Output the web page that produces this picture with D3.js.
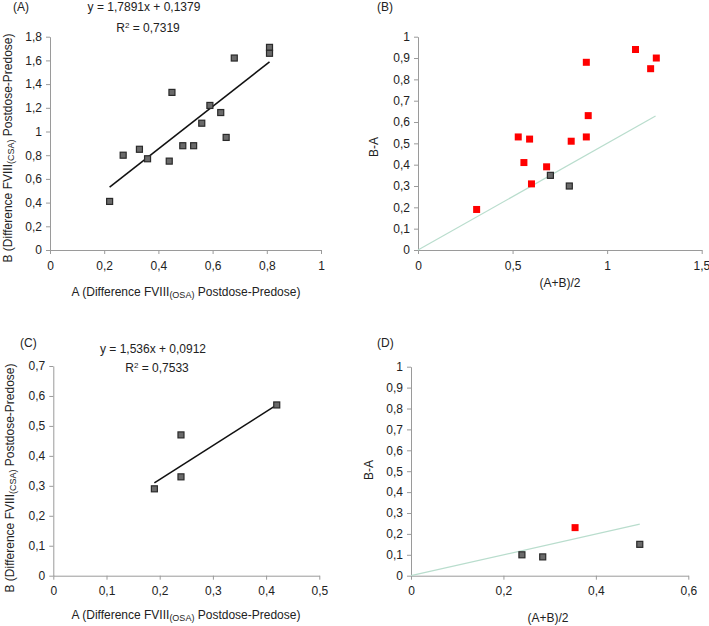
<!DOCTYPE html>
<html><head><meta charset="utf-8">
<script src="https://cdn.jsdelivr.net/npm/d3@7/dist/d3.min.js"></script>
<style>
body{margin:0;background:#fff;}
svg text{font-family:"Liberation Sans",Arial,Helvetica,sans-serif;fill:#222;}
</style></head><body>
<svg id="c" width="709" height="626"></svg>
<script>
// ---- Data ----
// Panel A
const aX = [0.22,0.27,0.33,0.36,0.44,0.45,0.49,0.53,0.56,0.59,0.63,0.65,0.68,0.81,0.81];
const aY = [0.41,0.80,0.85,0.77,0.75,1.33,0.88,0.88,1.07,1.22,1.16,0.95,1.62,1.71,1.66];
const aTrendX = [0.22,0.81];
const aTrendY = [0.531,1.587];
const aXTicks = [0,0.2,0.4,0.6,0.8,1];
const aYTicks = [0,0.2,0.4,0.6,0.8,1,1.2,1.4,1.6,1.8];
// Panel B
const bRedX = [0.31,0.53,0.59,0.56,0.60,0.68,0.81,0.89,0.89,0.90,1.15,1.23,1.26];
const bRedY = [0.19,0.53,0.52,0.41,0.31,0.39,0.51,0.88,0.53,0.63,0.94,0.85,0.90];
const bGrayX = [0.70,0.80];
const bGrayY = [0.35,0.30];
const bLineX = [0,1.256];
const bLineY = [0,0.628];
const bXTicks = [0,0.5,1,1.5];
const bYTicks = [0,0.1,0.2,0.3,0.4,0.5,0.6,0.7,0.8,0.9,1];
// Panel C
const cX = [0.19,0.24,0.24,0.42];
const cY = [0.29,0.47,0.33,0.57];
const cTrendX = [0.19,0.42];
const cTrendY = [0.31,0.57];
const cXTicks = [0,0.1,0.2,0.3,0.4,0.5];
const cYTicks = [0,0.1,0.2,0.3,0.4,0.5,0.6,0.7];
// Panel D
const dRedX = [0.355];
const dRedY = [0.23];
const dGrayX = [0.24,0.285,0.495];
const dGrayY = [0.10,0.09,0.15];
const dLineX = [0,0.495];
const dLineY = [0,0.247];
const dXTicks = [0,0.2,0.4,0.6];
const dYTicks = [0,0.1,0.2,0.3,0.4,0.5,0.6,0.7,0.8,0.9,1];

const eqA = "y = 1,7891x + 0,1379", r2A = "0,7319";
const eqC = "y = 1,536x + 0,0912", r2C = "0,7533";

// ---- Drawing ----
const svg = d3.select("#c");
const fmt = d => String(+d.toFixed(2)).replace(".", ",");
const zip = (xs, ys) => xs.map((x,i)=>[x, ys[i]]);

function panel(o){
  const x = d3.scaleLinear().domain([o.xTicks[0], o.xTicks[o.xTicks.length-1]]).range([o.x0, o.x1]);
  const y = d3.scaleLinear().domain([o.yTicks[0], o.yTicks[o.yTicks.length-1]]).range([o.y0, o.y1]);
  const g = svg.append("g");
  const xa = g.append("g").attr("transform", `translate(0,${o.y0})`)
    .call(d3.axisBottom(x).tickValues(o.xTicks).tickFormat(fmt).tickSize(4).tickSizeOuter(0).tickPadding(7));
  const ya = g.append("g").attr("transform", `translate(${o.x0},0)`)
    .call(d3.axisLeft(y).tickValues(o.yTicks).tickFormat(fmt).tickSize(4).tickSizeOuter(0).tickPadding(4));
  [xa, ya].forEach(a => {
    a.selectAll("path,line").attr("stroke", "#9a9a9a");
    a.selectAll("text").attr("font-size", 12).attr("fill", "#222");
  });
  // keep last x tick label inside the canvas
  xa.selectAll(".tick text").filter(function(){
    const b = this.getBBox(); const t = this.parentNode.transform.baseVal.consolidate();
    return t && t.matrix.e + b.x + b.width > 708;
  }).attr("text-anchor","end").attr("dx", 8);
  const line = d3.line().x(d=>x(d[0])).y(d=>y(d[1]));
  if (o.refLine) g.append("path").datum(o.refLine).attr("d", line)
      .attr("fill","none").attr("stroke","#b9ddcd").attr("stroke-width",1.2);
  if (o.trend) g.append("path").datum(o.trend).attr("d", line)
      .attr("fill","none").attr("stroke","#111").attr("stroke-width",1.6);
  const s = 7;
  if (o.red) g.selectAll(null).data(o.red).join("rect")
      .attr("x", d=>x(d[0])-s/2).attr("y", d=>y(d[1])-s/2).attr("width", s).attr("height", s)
      .attr("fill", "#ff0000");
  if (o.gray) g.selectAll(null).data(o.gray).join("rect")
      .attr("x", d=>x(d[0])-s/2+0.5).attr("y", d=>y(d[1])-s/2+0.5).attr("width", s-1).attr("height", s-1)
      .attr("fill", "#6a6a6a").attr("stroke", "#2a2a2a").attr("stroke-width", 1.2);
  return {x, y, g};
}

function subTitle(sel, parts){
  parts.forEach(p => {
    const t = sel.append("tspan").text(p.t);
    if (p.sub) t.attr("font-size", 9).attr("baseline-shift", "-25%");
  });
}

// Panel A
panel({x0:50, x1:321, y0:250, y1:36.7, xTicks:aXTicks, yTicks:aYTicks,
  gray: zip(aX, aY), trend: zip(aTrendX, aTrendY)});
// Panel B
panel({x0:418, x1:701.7, y0:250, y1:36.7, xTicks:bXTicks, yTicks:bYTicks,
  red: zip(bRedX, bRedY), gray: zip(bGrayX, bGrayY), refLine: zip(bLineX, bLineY)});
// Panel C
panel({x0:53.3, x1:319.3, y0:575.7, y1:366, xTicks:cXTicks, yTicks:cYTicks,
  gray: zip(cX, cY), trend: zip(cTrendX, cTrendY)});
// Panel D
panel({x0:411, x1:688.3, y0:575.7, y1:366.7, xTicks:dXTicks, yTicks:dYTicks,
  red: zip(dRedX, dRedY), gray: zip(dGrayX, dGrayY), refLine: zip(dLineX, dLineY)});

// Texts
const T = (x, y, txt, anchor="start") => svg.append("text").attr("x", x).attr("y", y)
  .attr("font-size", 12).attr("text-anchor", anchor).text(txt);

T(13, 11, "(A)");
T(377, 11, "(B)");
T(20, 347, "(C)");
T(377, 347, "(D)");

T(144, 11, eqA, "middle");
const rA = svg.append("text").attr("x",148).attr("y",32).attr("font-size",12).attr("text-anchor","middle");
rA.append("tspan").text("R"); rA.append("tspan").text("2").attr("font-size",8).attr("baseline-shift","super"); rA.append("tspan").text(" = " + r2A);

T(153, 353, eqC, "middle");
const rC = svg.append("text").attr("x",157).attr("y",372).attr("font-size",12).attr("text-anchor","middle");
rC.append("tspan").text("R"); rC.append("tspan").text("2").attr("font-size",8).attr("baseline-shift","super"); rC.append("tspan").text(" = " + r2C);

// X titles
const xtA = svg.append("text").attr("x",186).attr("y",296).attr("font-size",12).attr("text-anchor","middle");
subTitle(xtA, [{t:"A (Difference FVIII"},{t:"(OSA)",sub:true},{t:" Postdose-Predose)"}]);
const xtC = svg.append("text").attr("x",186).attr("y",619).attr("font-size",12).attr("text-anchor","middle");
subTitle(xtC, [{t:"A (Difference FVIII"},{t:"(OSA)",sub:true},{t:" Postdose-Predose)"}]);
T(560, 287, "(A+B)/2", "middle");
T(548, 622, "(A+B)/2", "middle");

// Y titles
const ytA = svg.append("text").attr("transform","translate(12,148) rotate(-90)").attr("font-size",12).attr("text-anchor","middle");
subTitle(ytA, [{t:"B (Difference FVIII"},{t:"(CSA)",sub:true},{t:" Postdose-Predose)"}]);
const ytC = svg.append("text").attr("transform","translate(14,478) rotate(-90)").attr("font-size",12).attr("text-anchor","middle");
subTitle(ytC, [{t:"B (Difference FVIII"},{t:"(CSA)",sub:true},{t:" Postdose-Predose)"}]);
svg.append("text").attr("transform","translate(378,147) rotate(-90)").attr("font-size",12).attr("text-anchor","middle").text("B-A");
svg.append("text").attr("transform","translate(373,470) rotate(-90)").attr("font-size",12).attr("text-anchor","middle").text("B-A");
</script></body></html>
